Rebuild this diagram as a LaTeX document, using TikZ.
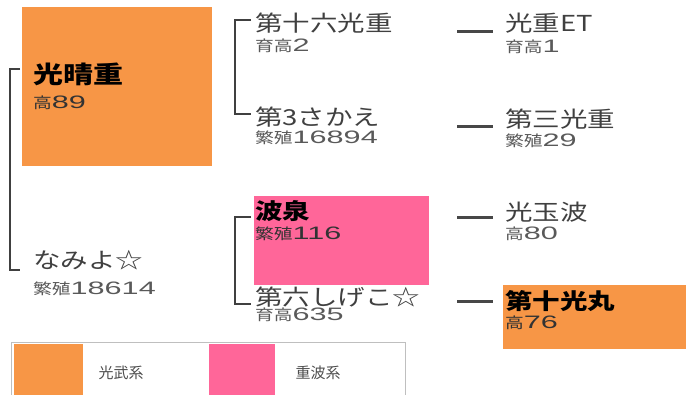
\documentclass[tikz,border=0pt]{standalone}
\usepackage{fontspec}
\newfontfamily\jp[FakeStretch=1.25]{Noto Sans CJK JP}
\newfontfamily\jplegend{Noto Sans CJK JP}
\newfontfamily\num[FakeStretch=1.7]{Liberation Sans}
\definecolor{kobu}{HTML}{F79646}
\definecolor{jupa}{HTML}{FF6699}
\newcommand\info[2]{{\jp\fontsize{15}{15}\selectfont #1}{\num\fontsize{18}{18}\selectfont #2}}

\tikzset{
  horse/.style={anchor=west, inner sep=0pt, text=black!75, font=\jp\fontsize{22}{22}\selectfont},
  first/.style={horse, text=black, font=\jp\bfseries\fontsize{24}{24}\selectfont},
  boxname/.style={horse, text=black, font=\jp\bfseries\fontsize{22}{22}\selectfont},
  data/.style={anchor=west, inner sep=0pt, text=black!65},
  bracket/.style={draw=black!75, line width=2.8pt},
  dashline/.style={draw=black!72, line width=3pt},
  legend/.style={inner sep=0pt, text=black!70, font=\jplegend\fontsize{15}{15}\selectfont}
}

\begin{document}
\begin{tikzpicture}[x=1pt,y=-1pt]
    \useasboundingbox (0,0) rectangle (686,395);

    % coloured boxes
    \fill[kobu] (22,7) rectangle (212,166);
    \fill[jupa] (254,196) rectangle (429,285);
    \fill[kobu] (503,285) rectangle (686,349);

    % parents
    \node[first] (kosei) at (33,74) {光晴重};
    \node[data, text=black!80] (kosei-d) at (33,103) {\info{高}{89}};
    \node[horse] (namiyo) at (33,260) {なみよ☆};
    \node[data] (namiyo-d) at (33,289) {\info{繁殖}{18614}};

    % grandparents
    \node[horse] (dai16) at (255,23) {第十六光重};
    \node[data] (dai16-d) at (255,46) {\info{育高}{2}};
    \node[horse] (sakae) at (255,117) {第3さかえ};
    \node[data] (sakae-d) at (255,138) {\info{繁殖}{16894}};
    \node[boxname] (hasen) at (255,211) {波泉};
    \node[data, text=black!80] (hasen-d) at (255,234) {\info{繁殖}{116}};
    \node[horse] (shigeko) at (255,297) {第六しげこ☆};
    \node[data] (shigeko-d) at (255,315) {\info{育高}{635}};

    % great-grandparents
    \node[horse] (et) at (505,23) {光重ET};
    \node[data] (et-d) at (505,47) {\info{育高}{1}};
    \node[horse] (dai3) at (505,119) {第三光重};
    \node[data] (dai3-d) at (505,141) {\info{繁殖}{29}};
    \node[horse] (tamanami) at (505,212) {光玉波};
    \node[data] (tamanami-d) at (505,234) {\info{高}{80}};
    \node[boxname] (dai10) at (505,301) {第十光丸};
    \node[data, text=black!80] (dai10-d) at (505,323) {\info{高}{76}};

    % brackets
    \coordinate (b0t) at (20,69);   \coordinate (b0b) at (20,270);
    \coordinate (b1t) at (251,20);  \coordinate (b1b) at (251,114);
    \coordinate (b2t) at (251,217); \coordinate (b2b) at (251,304);
    \draw[bracket] (b0t) -| ([xshift=-10pt]b0b) -- (b0b);
    \draw[bracket] (b1t) -| ([xshift=-16pt]b1b) -- (b1b);
    \draw[bracket] (b2t) -| ([xshift=-16pt]b2b) -- (b2b);

    % dashes
    \coordinate (d1) at (457,32);  \coordinate (d1e) at (493,32);
    \coordinate (d2) at (457,127); \coordinate (d2e) at (493,127);
    \coordinate (d3) at (457,218); \coordinate (d3e) at (493,218);
    \coordinate (d4) at (457,302); \coordinate (d4e) at (493,302);
    \draw[dashline] (d1) -- (d1e);
    \draw[dashline] (d2) -- (d2e);
    \draw[dashline] (d3) -- (d3e);
    \draw[dashline] (d4) -- (d4e);

    % legend
    \draw[black!25, line width=0.8pt] (11,400) -- (11,342) -- (405,342) -- (405,400);
    \fill[kobu] (14,344) rectangle (83,400);
    \fill[jupa] (209,344) rectangle (275,400);
    \node[legend] (kobu-l) at (121,373) {光武系};
    \node[legend] (jupa-l) at (318,373) {重波系};
\end{tikzpicture}
\end{document}
